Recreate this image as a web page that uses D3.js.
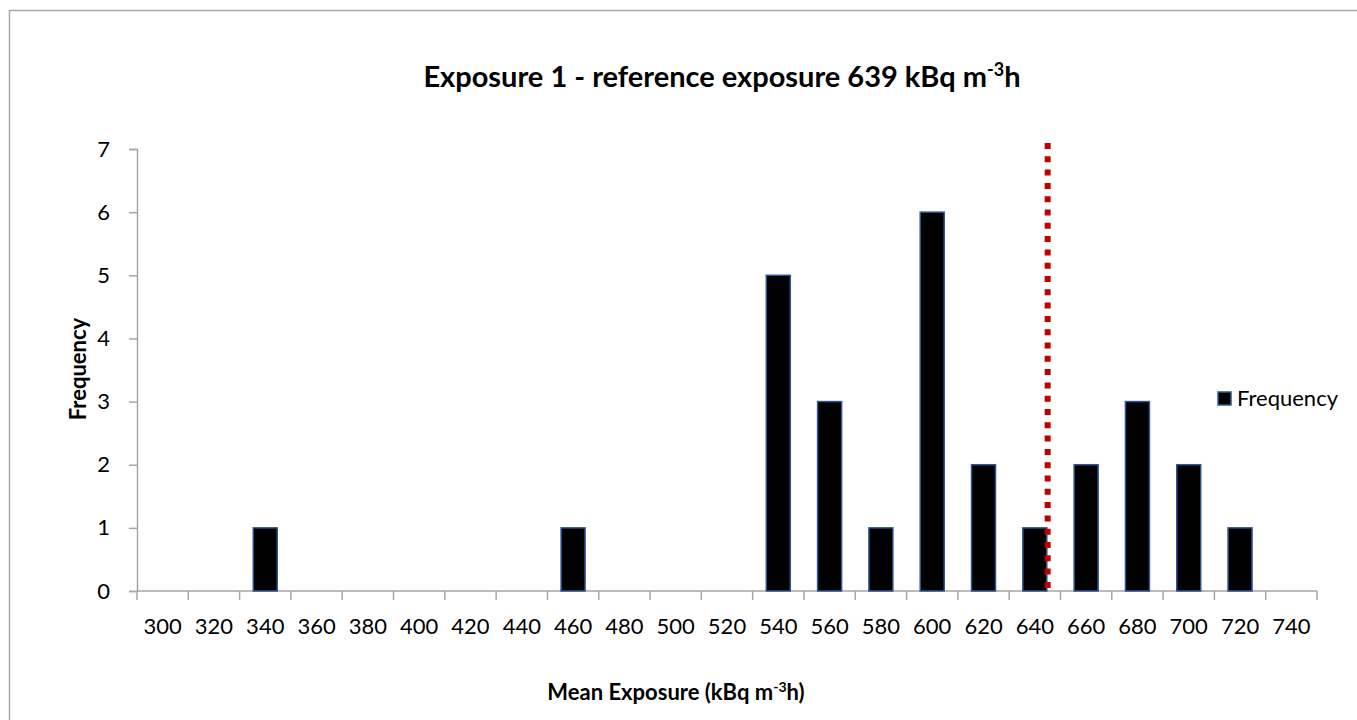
<!DOCTYPE html>
<html>
<head>
<meta charset="utf-8">
<script src="https://cdn.jsdelivr.net/npm/d3@7"></script>
<style>
  html, body { margin: 0; padding: 0; background: #fff; }
  svg { display: block; }
  text { font-family: Lato, "Open Sans", sans-serif; fill: #000; }
</style>
</head>
<body>
<svg id="chart" width="1357" height="720"></svg>
<script>
// ---- data ----
const categories = [300,320,340,360,380,400,420,440,460,480,500,520,540,560,580,600,620,640,660,680,700,720,740];
const frequency  = [0,0,1,0,0,0,0,0,1,0,0,0,5,3,1,6,2,1,2,3,2,1,0];
const yTicks = [0,1,2,3,4,5,6,7];
const referenceLineValue = 645;
const seriesName = "Frequency";

// ---- layout ----
const svg = d3.select("#chart");
const plot = { left: 137, right: 1317, top: 149, bottom: 591 };

svg.append("rect")
  .attr("x", 9.5).attr("y", 10.5).attr("width", 1400).attr("height", 760)
  .attr("fill", "none").attr("stroke", "#a6a6a6").attr("stroke-width", 1.5);

const x = d3.scaleBand().domain(categories).range([plot.left, plot.right]).padding(0);
const y = d3.scaleLinear().domain([0, 7]).range([plot.bottom, plot.top]);
// linear map of value onto category centers
const xVal = d3.scaleLinear()
  .domain([categories[0], categories[categories.length - 1]])
  .range([x(categories[0]) + x.bandwidth() / 2, x(categories[categories.length - 1]) + x.bandwidth() / 2]);

// ---- axes ----
const axisColor = "#a6a6a6";
const yAxis = svg.append("g").attr("transform", `translate(${plot.left},0)`)
  .call(d3.axisLeft(y).tickValues(yTicks).tickFormat(d3.format("d")).tickSize(8).tickSizeOuter(8).tickPadding(19));
const xAxis = svg.append("g").attr("transform", `translate(0,${plot.bottom})`)
  .call(d3.axisBottom(x).tickSize(0).tickPadding(27));

// x ticks at category boundaries
const bounds = categories.map(c => x(c)).concat([x(categories[categories.length - 1]) + x.bandwidth()]);
xAxis.selectAll(".bound").data(bounds).enter().append("line")
  .attr("class", "bound")
  .attr("x1", d => d).attr("x2", d => d).attr("y1", 0).attr("y2", 9)
  .attr("stroke", axisColor).attr("stroke-width", 1.5);

[xAxis, yAxis].forEach(g => {
  g.selectAll(".domain").attr("stroke", axisColor).attr("stroke-width", 1.5);
  g.selectAll(".tick line").attr("stroke", axisColor).attr("stroke-width", 1.5);
  g.selectAll(".tick text").style("font-size", "22px").style("font-family", "Lato, sans-serif").attr("fill", "#000");
});
xAxis.select(".domain").attr("d", `M${plot.left},0H${plot.right}`);

// ---- bars ----
const barW = 24;
svg.append("g").selectAll("rect").data(categories.map((c, i) => ({ c, v: frequency[i] })).filter(d => d.v > 0))
  .enter().append("rect")
  .attr("x", d => x(d.c) + x.bandwidth() / 2 - barW / 2)
  .attr("y", d => y(d.v))
  .attr("width", barW)
  .attr("height", d => y(0) - y(d.v))
  .attr("fill", "#000")
  .attr("stroke", "#2f5597").attr("stroke-width", 1.5);

// ---- reference line ----
svg.append("line")
  .attr("x1", xVal(referenceLineValue)).attr("x2", xVal(referenceLineValue))
  .attr("y1", y(7) - 6).attr("y2", y(0))
  .attr("stroke", "#c00000").attr("stroke-width", 6)
  .attr("stroke-dasharray", "6,7.3");

// ---- title ----
const title = svg.append("text").attr("x", 722).attr("y", 87).attr("text-anchor", "middle")
  .style("font-size", "29px").style("font-weight", "bold");
title.append("tspan").text("Exposure 1 - reference exposure 639 kBq m");
title.append("tspan").attr("dy", -11).style("font-size", "18px").text("-3");
title.append("tspan").attr("dy", 11).text("h");

// ---- axis titles ----
svg.append("text").attr("transform", "translate(86,369) rotate(-90)")
  .attr("text-anchor", "middle").style("font-size", "22px").style("font-weight", "bold").text("Frequency");

const xt = svg.append("text").attr("x", 676).attr("y", 700).attr("text-anchor", "middle")
  .style("font-size", "22px").style("font-weight", "bold");
xt.append("tspan").text("Mean Exposure (kBq m");
xt.append("tspan").attr("dy", -8).style("font-size", "14px").text("-3");
xt.append("tspan").attr("dy", 8).text("h)");

// ---- legend ----
svg.append("rect").attr("x", 1218).attr("y", 392).attr("width", 13).attr("height", 13)
  .attr("fill", "#000").attr("stroke", "#2f5597").attr("stroke-width", 1.5);
svg.append("text").attr("x", 1237).attr("y", 406).style("font-size", "22px").text(seriesName);
</script>
</body>
</html>
